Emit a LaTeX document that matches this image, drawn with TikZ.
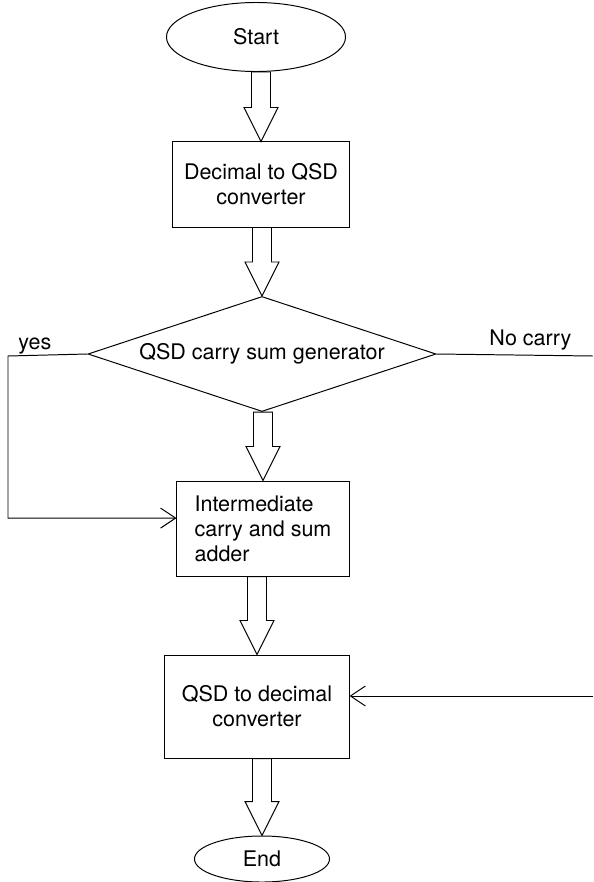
\documentclass[tikz,border=0pt]{standalone}
\usepackage{fontspec}
\setmainfont{TeX Gyre Heros}
\usetikzlibrary{calc}
\usetikzlibrary{arrows.meta}
\usetikzlibrary{shapes.geometric}
\tikzset{
  term/.style={draw, ellipse, inner sep=0pt},
  box/.style={draw, rectangle, align=center, inner sep=0pt},
  test/.style={draw, diamond, aspect=3, inner sep=0pt},
  lbl/.style={inner sep=0pt, anchor=base west},
  flow/.style={-{Straight Barb[length=0.375cm, width=0.5cm]}},
  hollow/.style={line join=miter, to path={
      ($(\tikztotarget.north |- \tikztostart.south)+(-9.5,0)$)
      -- ($(\tikztotarget.north)+(-9.5,-34)$) -- ($(\tikztotarget.north)+(-17,-34)$)
      -- (\tikztotarget.north)
      -- ($(\tikztotarget.north)+(17,-34)$) -- ($(\tikztotarget.north)+(9.5,-34)$)
      -- ($(\tikztotarget.north |- \tikztostart.south)+(9.5,0)$) -- cycle}},
}
\begin{document}
\begin{tikzpicture}[x=0.025cm, y=-0.025cm, line width=0.7pt,
    font=\fontsize{15.3}{17.8}\selectfont]
      \useasboundingbox (0, 0) rectangle (593, 882);

      \node [term, minimum width=4.475cm, minimum height=1.725cm] (start) at (256, 37) {Start};
      \node [box, minimum width=4.4cm, minimum height=2.125cm] (conv) at (261, 184.5)
      {Decimal to QSD\\converter};
      \node [test, minimum width=8.7cm, minimum height=2.875cm] (gen) at (262, 354)
      {QSD carry sum generator};
      \node [box, align=left, minimum width=4.3cm, minimum height=2.375cm]
      (inter) at (263, 528.5) {Intermediate\\carry and sum\\adder};
      \node [box, minimum width=4.6cm, minimum height=2.575cm] (dec) at (257, 706.5)
      {QSD to decimal\\converter};
      \node [term, minimum width=3.375cm, minimum height=1.15cm] (end) at (262, 859) {End};

      % labels of the two outputs
      \node [lbl] (yes) at (18, 349) {yes};
      \node [lbl] (nocarry) at (489, 345) {No carry};

      \coordinate (yesleft) at (8, 356);
      \coordinate (noright) at (593, 356);
      \coordinate (back) at (593, 696);

      % main flow
      \draw [hollow] (start) to (conv);
      \draw [hollow] (conv) to (gen);
      \draw [hollow] (gen) to (inter);
      \draw [hollow] (inter) to (dec);
      \draw [hollow] (dec) to (end);

      \draw [flow] (gen.west) -- (yesleft) |- ([yshift=0.26cm]inter.west);
      \draw (gen.east) -- (noright);
      \draw [flow] (back) -- (back -| dec.east);
    \end{tikzpicture}
\end{document}
